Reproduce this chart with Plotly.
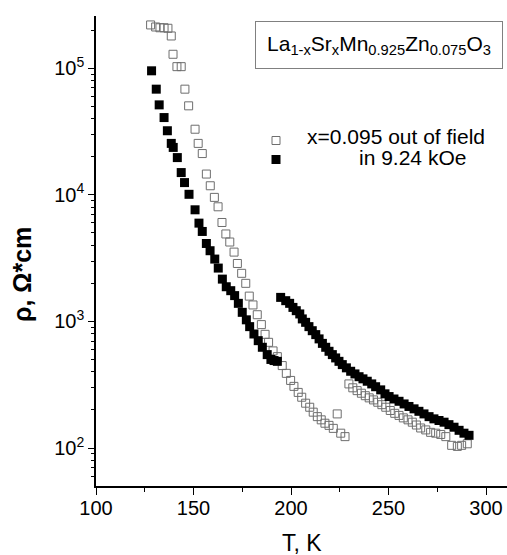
import plotly.graph_objects as go

# ---- data ----
T_out = [128.0, 130.6, 132.8, 134.9, 136.9, 138.6, 139.5, 141.5, 143.7, 145.6,
         147.5, 150.8, 152.4, 154.5, 156.6, 158.6, 160.7, 162.6, 164.6, 166.6,
         168.6, 170.8, 172.5, 174.7, 176.8, 178.6, 180.5, 182.7, 184.8, 186.7,
         188.5, 190.8, 193.0, 195.5, 197.6, 199.8, 201.5, 203.7, 205.5, 207.5,
         209.6, 211.4, 213.5, 215.5, 217.4, 219.5, 221.7, 223.7, 225.5, 227.7,
         229.7, 231.7, 233.9, 236.1, 238.1, 240.1, 242.3, 244.5, 246.6, 248.6,
         250.9, 253.2, 255.4, 257.6, 260.0, 262.2, 264.3, 266.5, 269.1, 271.6,
         274.2, 276.8, 279.4, 282.4, 285.3, 287.5, 290.4]
rho_out = [220000, 212000, 209000, 209000, 207000, 180000, 129000, 103000, 103000, 68400,
           50500, 33000, 25500, 21200, 14600, 11800, 9550, 8050, 6050, 4910,
           4240, 3530, 2870, 2400, 2000, 1585, 1350, 1130, 944, 791,
           684, 585, 527, 448, 389, 342, 307, 275, 252, 226,
           210, 192, 177, 167, 157, 151, 143, 186, 131, 123,
           321, 299, 284, 271, 259, 249, 240, 230, 220, 210,
           198, 188, 181, 173, 167, 160, 152, 144, 139, 133,
           131, 128, 123, 105, 103, 105, 108]

T_field = [128.5, 130.9, 132.4, 134.9, 136.6, 138.6, 139.6, 141.7, 143.7, 145.4,
           147.7, 150.8, 152.8, 154.5, 156.6, 158.5, 160.9, 162.7, 164.8, 166.8,
           169.1, 171.1, 173.0, 175.0, 177.1, 178.8, 181.0, 183.2, 185.3, 187.8,
           189.7, 191.3, 193.0,
           194.7, 197.3, 199.3, 201.0, 202.7, 204.5, 205.8, 207.5, 209.2, 210.9,
           212.7, 214.4, 216.1, 217.8, 219.5, 221.2, 222.9, 224.6, 226.3, 228.4,
           230.6, 232.8, 234.9, 236.9, 239.1, 241.4, 243.4, 246.0, 248.2, 250.3,
           252.8, 255.4, 258.0, 260.5, 263.1, 265.6, 268.2, 270.8, 273.3, 275.9,
           278.5, 281.0, 283.6, 286.2, 288.7, 291.3]
rho_field = [95500, 68400, 51400, 40800, 32100, 25500, 23700, 19700, 15000, 12500,
             10100, 7620, 5980, 5140, 4130, 3620, 3110, 2640, 2160, 1880,
             1750, 1600, 1390, 1180, 1030, 910, 796, 705, 625, 547,
             501, 491, 484,
             1549, 1459, 1390, 1291, 1216, 1146, 1047, 984, 910, 845,
             787, 728, 671, 625, 581, 547, 515, 484, 456, 430,
             404, 385, 366, 352, 337, 321, 305, 288, 268, 255,
             244, 234, 223, 213, 204, 195, 186, 177, 170, 165,
             160, 153, 146, 138, 131, 126]

x_major = [100, 150, 200, 250, 300]
x_minor = [125, 175, 225, 275]
y_major = [1e2, 1e3, 1e4, 1e5]
y_major_text = ["10<sup>2</sup>", "10<sup>3</sup>", "10<sup>4</sup>", "10<sup>5</sup>"]
y_minor = [m * d for d in [10, 100, 1000, 10000, 100000] for m in range(2, 10)]

FONT = "Arial, Liberation Sans, sans-serif"

fig = go.Figure()
fig.add_trace(go.Scatter(
    x=T_out, y=rho_out, mode="markers", name=" ",
    marker=dict(symbol="square-open", size=8, color="#6e6e6e", line=dict(width=1, color="#6e6e6e")),
))
fig.add_trace(go.Scatter(
    x=T_field, y=rho_field, mode="markers", name="  ",
    marker=dict(symbol="square", size=9, color="black", line=dict(width=0)),
))

W, H = 507, 555
L, R, Tm, B = 96, 0, 16, 69
pw, ph = W - L - R, H - Tm - B

def px(xp):
    return (xp - L) / pw

def py(yp):
    return (H - B - yp) / ph

fig.update_layout(
    width=W, height=H,
    margin=dict(l=L, r=R, t=Tm, b=B),
    paper_bgcolor="white", plot_bgcolor="white",
    font=dict(family=FONT, color="black", size=20),
    showlegend=True,
    legend=dict(x=px(256), y=py(126), xanchor="left", yanchor="top",
                font=dict(size=12), bgcolor="rgba(0,0,0,0)", borderwidth=0,
                tracegroupgap=0, itemwidth=30),
)

fig.update_xaxes(
    type="linear", range=[100, 100 + pw / 1.95],
    tickmode="array", tickvals=x_major, ticktext=[str(v) for v in x_major],
    ticks="outside", ticklen=7, tickwidth=1.3, tickcolor="black",
    minor=dict(tickmode="array", tickvals=x_minor, ticks="outside", ticklen=4, tickwidth=1.3, tickcolor="black"),
    showline=True, linewidth=1.5, linecolor="black", mirror=False,
    showgrid=False, zeroline=False,
    tickfont=dict(size=20, family=FONT),
    ticklabelstandoff=-4,
)
fig.update_yaxes(
    type="log", range=[1.70, 5.413],
    tickmode="array", tickvals=y_major, ticktext=y_major_text,
    ticks="outside", ticklen=6, tickwidth=1.3, tickcolor="black",
    minor=dict(tickmode="array", tickvals=y_minor, ticks="outside", ticklen=3, tickwidth=1, tickcolor="black"),
    showline=True, linewidth=1.5, linecolor="black", mirror=False,
    showgrid=False, zeroline=False,
    tickfont=dict(size=20, family=FONT),
)

# formula box
fig.add_annotation(
    x=px(379), y=py(45), xref="paper", yref="paper", xanchor="center", yanchor="middle",
    text="La<sub>1-x</sub>Sr<sub>x</sub>Mn<sub>0.925</sub>Zn<sub>0.075</sub>O<sub>3</sub>",
    showarrow=False, font=dict(size=21, family=FONT),
    bordercolor="#808080", borderwidth=1, borderpad=2, width=242, height=42,
)
# legend labels
fig.add_annotation(x=px(305), y=py(136), xref="paper", yref="paper", xanchor="left", yanchor="middle",
                   text="x=0.095 out of field", showarrow=False, font=dict(size=21, family=FONT))
fig.add_annotation(x=px(357), y=py(157), xref="paper", yref="paper", xanchor="left", yanchor="middle",
                   text="in 9.24 kOe", showarrow=False, font=dict(size=21, family=FONT))
# axis titles
fig.add_annotation(x=px(301.5), y=py(543), xref="paper", yref="paper", xanchor="center", yanchor="middle",
                   text="T, K", showarrow=False, font=dict(size=23, family=FONT))
fig.add_annotation(x=px(22), y=py(275), xref="paper", yref="paper", xanchor="center", yanchor="middle",
                   text="<b>ρ, Ω*cm</b>", textangle=-90, showarrow=False, font=dict(size=25, family=FONT))

fig.write_html("out.html")
